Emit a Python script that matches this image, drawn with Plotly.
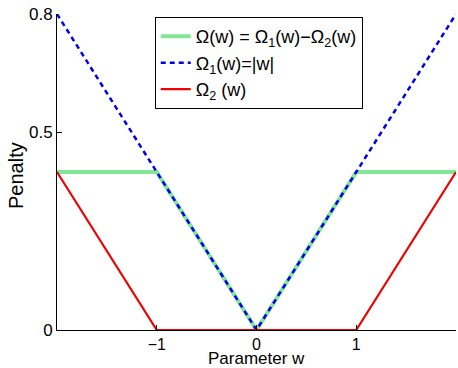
import plotly.graph_objects as go

w = [-2, -1, 0, 1, 2]
omega = [0.4, 0.4, 0.0, 0.4, 0.4]
omega1 = [0.8, 0.4, 0.0, 0.4, 0.8]
omega2 = [0.4, 0.0, 0.0, 0.0, 0.4]
xticks = [-1, 0, 1]
yticks = [0, 0.5, 0.8]
x_label = "Parameter w"
y_label = "Penalty"

fig = go.Figure()
fig.add_trace(go.Scatter(x=w, y=omega, mode="lines",
                         line=dict(color="rgb(130,230,150)", width=4),
                         name="Ω(w) = Ω<sub>1</sub>(w)−Ω<sub>2</sub>(w)"))
fig.add_trace(go.Scatter(x=w, y=omega1, mode="lines",
                         line=dict(color="rgb(0,0,240)", width=2.5, dash="5px,4px"),
                         name="Ω<sub>1</sub>(w)=|w|"))
fig.add_trace(go.Scatter(x=w, y=omega2, mode="lines",
                         line=dict(color="rgb(240,0,0)", width=2.2),
                         name="Ω<sub>2</sub> (w)"))

fig.update_layout(
    width=458, height=368,
    margin=dict(l=57, r=2, t=14, b=38),
    paper_bgcolor="white", plot_bgcolor="white",
    font=dict(family="Liberation Sans, Arial, sans-serif", size=17, color="black"),
    showlegend=True,
    legend=dict(x=0.245, y=0.99, xanchor="left", yanchor="top",
                bordercolor="black", borderwidth=1, bgcolor="white",
                font=dict(size=18), tracegroupgap=0, itemwidth=30),
    xaxis=dict(range=[-2, 2], tickvals=xticks, ticktext=["−1", "0", "1"],
               ticks="inside", ticklen=5, tickcolor="black",
               showline=True, linecolor="black", linewidth=1,
               showgrid=False, zeroline=False, tickfont=dict(size=16),
               automargin=False),
    yaxis=dict(range=[0, 0.8], tickvals=yticks, ticktext=["0", "0.5", "0.8"],
               ticks="inside", ticklen=5, tickcolor="black",
               showline=True, linecolor="black", linewidth=1,
               showgrid=False, zeroline=False, tickfont=dict(size=17),
               automargin=False),
    annotations=[
        dict(text=x_label, xref="paper", yref="paper", x=0.5, y=0,
             xanchor="center", yanchor="top", yshift=-18, showarrow=False,
             borderpad=0, font=dict(size=17)),
        dict(text=y_label, xref="paper", yref="paper", x=0, y=0.5,
             xanchor="center", yanchor="middle", xshift=-41, yshift=-4,
             textangle=-90, showarrow=False, font=dict(size=20)),
    ],
)

fig.write_html("out.html", config={"displayModeBar": False},
               post_script="document.body.style.margin='0';document.body.style.padding='0';")
